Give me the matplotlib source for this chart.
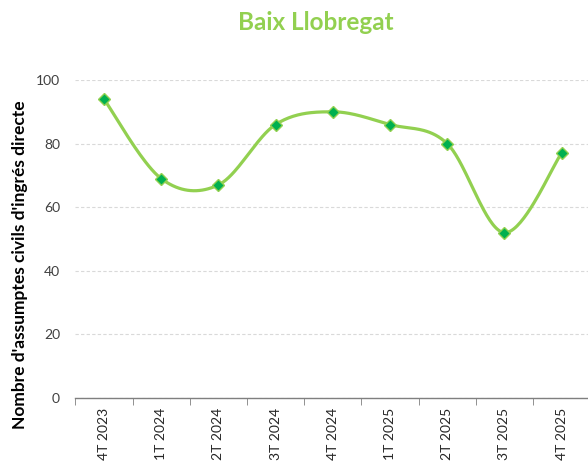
import numpy as np
import matplotlib
matplotlib.use("Agg")
import matplotlib.pyplot as plt

plt.rcParams['font.family'] = ['Lato', 'DejaVu Sans']

# data
periods = ["4T 2023", "1T 2024", "2T 2024", "3T 2024", "4T 2024",
           "1T 2025", "2T 2025", "3T 2025", "4T 2025"]
values = [94, 69, 67, 86, 90, 86, 80, 52, 77]

line_green = "#92D050"
marker_green = "#00B050"


def smooth_curve(xs, ys, steps=40):
    """Catmull-Rom style smoothing like Excel's smoothed line."""
    px = np.concatenate([[xs[0]], xs, [xs[-1]]])
    py = np.concatenate([[ys[0]], ys, [ys[-1]]])
    out_x, out_y = [], []
    t = np.linspace(0, 1, steps)
    for i in range(1, len(px) - 2):
        p0 = np.array([px[i], py[i]])
        p3 = np.array([px[i + 1], py[i + 1]])
        c1 = p0 + (p3 - np.array([px[i - 1], py[i - 1]])) / 6.0
        c2 = p3 - (np.array([px[i + 2], py[i + 2]]) - p0) / 6.0
        b = ((1 - t) ** 3)[:, None] * p0 + (3 * (1 - t) ** 2 * t)[:, None] * c1 \
            + (3 * (1 - t) * t ** 2)[:, None] * c2 + (t ** 3)[:, None] * p3
        out_x.extend(b[:, 0])
        out_y.extend(b[:, 1])
    return np.array(out_x), np.array(out_y)


x = np.arange(len(periods))
sx, sy = smooth_curve(x.astype(float), np.array(values, dtype=float))

fig = plt.figure(figsize=(5.88, 4.63), dpi=100)
ax = fig.add_axes([0.1282, 0.1404, 0.8755, 0.6868])

ax.plot(sx, sy, color=line_green, lw=2.3, zorder=2, solid_capstyle="round")
ax.plot(x, values, ls="none", marker="D", ms=6.5, mfc=marker_green,
        mec=line_green, mew=1.0, zorder=3)

ax.set_xlim(-0.5, len(periods) - 0.5)
ax.set_ylim(0, 100)
ax.set_yticks([0, 20, 40, 60, 80, 100])
ax.grid(axis="y", color="#D9D9D9", ls=(0, (3, 2)), lw=0.8)
ax.set_axisbelow(True)

for s in ["top", "right", "left"]:
    ax.spines[s].set_visible(False)
ax.spines["bottom"].set_color("#7F7F7F")
ax.spines["bottom"].set_linewidth(1.0)

ax.set_xticks(x)
ax.set_xticklabels(periods, rotation=90, fontsize=10, color="#262626")
ax.set_xticks(np.arange(len(periods) + 1) - 0.5, minor=True)
ax.tick_params(axis="x", which="major", length=0, pad=7)
ax.tick_params(axis="x", which="minor", length=5, color="#7F7F7F")
ax.tick_params(axis="y", length=0, labelsize=10, labelcolor="#404040", pad=11)
for lab in ax.get_xticklabels():
    lab.set_verticalalignment("top")

ax.set_ylabel("Nombre d'assumptes civils d'ingrés directe", fontsize=12.5,
              fontweight="bold", color="black")
ax.yaxis.set_label_coords(-0.092, 0.42)

fig.text(0.537, 0.952, "Baix Llobregat", ha="center", va="center",
         fontsize=17.5, fontweight="bold", color=line_green)

fig.savefig("out.png", dpi=100)
